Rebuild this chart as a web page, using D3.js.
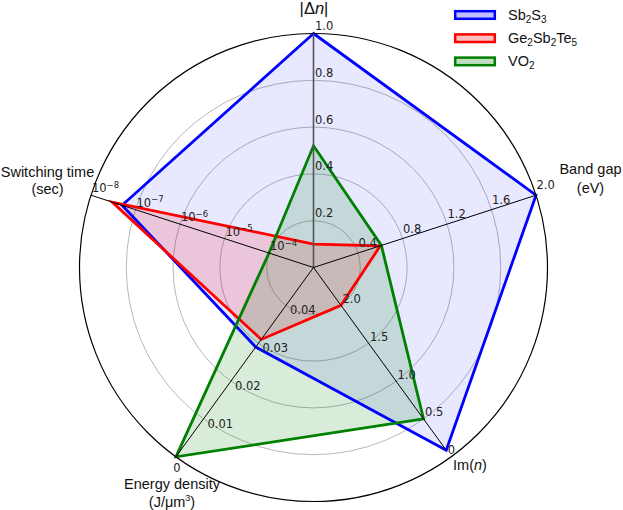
<!DOCTYPE html>
<html>
<head>
    <meta charset="UTF-8">
    <title>Radar chart</title>
    <script src="https://d3js.org/d3.v7.min.js"></script>
    <style>
        body { margin: 0; background: #fff; }
        svg { display: block; }
        .tick-label { font: 11.5px "DejaVu Sans", sans-serif; fill: #222; }
        .title { font: 14.5px "Liberation Sans", Arial, sans-serif; fill: #111; }
        .legend-text { font: 14.5px "Liberation Sans", Arial, sans-serif; fill: #111; }
    </style>
</head>
<body>
    <div id="chart"></div>
    <script>
        // axis order, clockwise from the top
        const axisNames = ["dn", "gap", "im", "energy", "switch"];

        // series values: |Δn|, band gap (eV), Im(n), energy density (J/µm³), switching time (s)
        const sb2s3 = [1.0, 2.0, 0, 0.029, 5e-8];
        const gst = [0.1, 0.6, 2.0, 0.031, 3e-8];
        const vo2 = [0.52, 0.61, 0.5, 0, 1e-4];

        const seriesNames = ["Sb2S3", "Ge2Sb2Te5", "VO2"];

        // tick values per axis
        const dnTicks = [0.2, 0.4, 0.6, 0.8, 1.0];
        const gapTicks = [0.4, 0.8, 1.2, 1.6, 2.0];
        const imTicks = [2.0, 1.5, 1.0, 0.5, 0];
        const energyTicks = [0.04, 0.03, 0.02, 0.01, 0];
        const switchTicks = [1e-4, 1e-5, 1e-6, 1e-7, 1e-8];

        const gridLevels = [0.2, 0.4, 0.6, 0.8];

        const width = 623, height = 510;
        const cx = 313.5, cy = 267.5, R = 234;

        const svg = d3.select("#chart").append("svg")
            .attr("width", width)
            .attr("height", height);

        const rScale = d3.scaleLinear().domain([0, 1]).range([0, R]);

        // each axis maps its own units onto 0..1 of the radius
        const axisScales = {
            dn: d3.scaleLinear().domain([0, 1]).range([0, 1]),
            gap: d3.scaleLinear().domain([0, 2]).range([0, 1]),
            im: d3.scaleLinear().domain([2.5, 0.5, 0]).range([0, 0.8, 0.965]),
            energy: d3.scaleLinear().domain([0.05, 0]).range([0, 1]),
            switch: d3.scaleLog().domain([1e-3, 1e-8]).range([0, 1])
        };
        const axisTicks = { dn: dnTicks, gap: gapTicks, im: imTicks, energy: energyTicks, switch: switchTicks };

        function angleOf(i) {
            return (90 - 72 * i) * Math.PI / 180;
        }
        function point(i, frac) {
            const a = angleOf(i);
            return [cx + rScale(frac) * Math.cos(a), cy - rScale(frac) * Math.sin(a)];
        }

        // grid circles
        svg.selectAll(".grid")
            .data(gridLevels)
            .join("circle")
            .attr("class", "grid")
            .attr("cx", cx).attr("cy", cy)
            .attr("r", d => rScale(d))
            .attr("fill", "none")
            .attr("stroke", "#b8b8b8")
            .attr("stroke-width", 1);

        // series polygons
        const series = [
            { name: seriesNames[0], values: sb2s3, color: "#0000ff", fillOpacity: 0.09 },
            { name: seriesNames[1], values: gst, color: "#ff0000", fillOpacity: 0.15 },
            { name: seriesNames[2], values: vo2, color: "#008000", fillOpacity: 0.15 }
        ];
        const line = d3.line().curve(d3.curveLinearClosed);

        series.forEach(s => {
            const pts = s.values.map((v, i) => point(i, axisScales[axisNames[i]](v)));
            svg.append("path")
                .attr("d", line(pts))
                .attr("fill", s.color)
                .attr("fill-opacity", s.fillOpacity)
                .attr("stroke", "none");
        });
        series.forEach(s => {
            const pts = s.values.map((v, i) => point(i, axisScales[axisNames[i]](v)));
            svg.append("path")
                .attr("d", line(pts))
                .attr("fill", "none")
                .attr("stroke", s.color)
                .attr("stroke-width", 2.8)
                .attr("stroke-linejoin", "miter");
        });

        // axis lines and tick labels
        axisNames.forEach((name, i) => {
            const sc = axisScales[name];
            const ticks = axisTicks[name];
            const end = point(i, sc(ticks[ticks.length - 1]));
            svg.append("line")
                .attr("x1", cx).attr("y1", cy)
                .attr("x2", end[0]).attr("y2", end[1])
                .attr("stroke", i === 0 ? "#555" : "#000")
                .attr("stroke-width", i === 0 ? 1.6 : 1);

            ticks.forEach(t => {
                const p = point(i, sc(t));
                const txt = svg.append("text").attr("class", "tick-label");
                let dx = 1.5, dy = -3.5, anchor = "start", base = "auto";
                if (name === "gap") { dx = 0.5; dy = -6; }
                if (name === "im") { dx = 1.5; dy = t === 0 ? 4 : -2.5; }
                if (name === "energy") {
                    dx = 4; dy = 0; base = "hanging";
                    if (t === 0) { dx = 1; dy = 6; anchor = "middle"; }
                }
                if (name === "switch") { dx = 1; dy = -3; }
                txt.attr("x", p[0] + dx).attr("y", p[1] + dy)
                    .attr("text-anchor", anchor)
                    .attr("dominant-baseline", base);
                if (name === "switch") {
                    txt.append("tspan").text("10");
                    txt.append("tspan")
                        .attr("dy", -4.5)
                        .style("font-size", "8.5px")
                        .text("\u2212" + (-Math.round(Math.log10(t))));
                } else if (name === "energy") {
                    txt.text(t === 0 ? "0" : d3.format(".2f")(t));
                } else if (name === "im") {
                    txt.text(t === 0 ? "0" : d3.format(".1f")(t));
                } else {
                    txt.text(d3.format(".1f")(t));
                }
            });
        });

        // outer frame
        svg.append("circle")
            .attr("cx", cx).attr("cy", cy)
            .attr("r", rScale(1))
            .attr("fill", "none")
            .attr("stroke", "#000")
            .attr("stroke-width", 1.2);

        // axis titles
        function richText(sel, parts) {
            parts.forEach(p => {
                const ts = sel.append("tspan").text(p.t);
                if (p.it) ts.style("font-style", "italic");
                if (p.sub) ts.attr("dy", 3.5).style("font-size", "10px");
                if (p.sup) ts.attr("dy", -6).style("font-size", "9px");
                if (p.back) ts.attr("dy", p.back);
            });
        }
        const titles = [
            { x: 314, y: [14], size: 16.5, lines: [[{ t: "|Δ" }, { t: "n", it: true }, { t: "|" }]] },
            { x: 590.5, y: [174, 193], lines: [[{ t: "Band gap" }], [{ t: "(eV)" }]] },
            { x: 470, y: [470], lines: [[{ t: "Im(" }, { t: "n", it: true }, { t: ")" }]] },
            { x: 172, y: [488.5, 506.5], lines: [[{ t: "Energy density" }], [{ t: "(J/μm" }, { t: "3", sup: true }, { t: ")", back: 6 }]] },
            { x: 47.5, y: [177, 194], lines: [[{ t: "Switching time" }], [{ t: "(sec)" }]] }
        ];
        titles.forEach(tt => {
            tt.lines.forEach((ln, k) => {
                const txt = svg.append("text")
                    .attr("class", "title")
                    .attr("x", tt.x).attr("y", tt.y[k])
                    .attr("text-anchor", "middle");
                if (tt.size) txt.style("font-size", tt.size + "px");
                richText(txt, ln);
            });
        });

        // legend
        const legendLabels = [
            [{ t: "Sb" }, { t: "2", sub: true }, { t: "S", back: -3.5 }, { t: "3", sub: true }],
            [{ t: "Ge" }, { t: "2", sub: true }, { t: "Sb", back: -3.5 }, { t: "2", sub: true }, { t: "Te", back: -3.5 }, { t: "5", sub: true }],
            [{ t: "VO" }, { t: "2", sub: true }]
        ];
        const legend = svg.append("g").attr("transform", "translate(454,10)");
        series.forEach((s, k) => {
            const g = legend.append("g").attr("transform", `translate(0,${k * 23.2})`);
            g.append("rect")
                .attr("x", 1.2).attr("y", 1.2)
                .attr("width", 39.6).attr("height", 7.6)
                .attr("fill", d3.color(s.color).copy({ opacity: 0.25 }))
                .attr("stroke", s.color)
                .attr("stroke-width", 2.5);
            const txt = g.append("text")
                .attr("class", "legend-text")
                .attr("x", 54).attr("y", 9.5);
            richText(txt, legendLabels[k]);
        });
    </script>
</body>
</html>
